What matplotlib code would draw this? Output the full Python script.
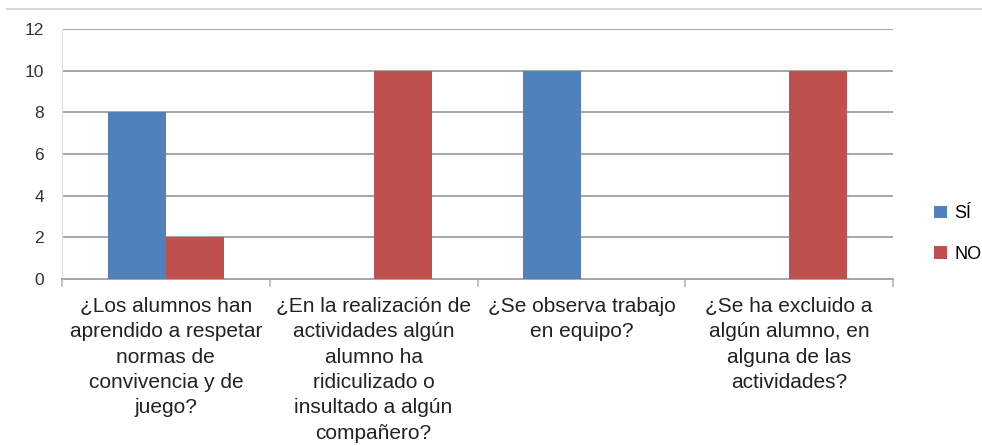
import matplotlib
matplotlib.use("Agg")
import matplotlib.pyplot as plt
import numpy as np

categories = [
    "¿Los alumnos han\naprendido a respetar\nnormas de\nconvivencia y de\njuego?",
    "¿En la realización de\nactividades algún\nalumno ha\nridiculizado o\ninsultado a algún\ncompañero?",
    "¿Se observa trabajo\nen equipo?",
    "¿Se ha excluido a\nalgún alumno, en\nalguna de las\nactividades?",
]
si_values = [8, 0, 10, 0]
no_values = [2, 10, 0, 10]
series_names = ["SÍ", "NO"]
yticks = [0, 2, 4, 6, 8, 10, 12]

BLUE = "#4F81BD"
RED = "#C0504D"
GRID = "#A6A6A6"

plt.rcParams["font.family"] = ["Liberation Sans", "DejaVu Sans"]

fig = plt.figure(figsize=(9.82, 4.46), dpi=100)
ax = fig.add_axes([62 / 982, 1 - 279 / 446, (893 - 62) / 982, 250 / 446])

x = np.arange(len(categories))
w = 0.28
b1 = ax.bar(x - w / 2, si_values, w, color=BLUE, label=series_names[0], zorder=3)
b2 = ax.bar(x + w / 2, no_values, w, color=RED, label=series_names[1], zorder=3)

ax.set_xlim(-0.5, len(categories) - 0.5)
ax.set_ylim(0, 12)
ax.set_yticks(yticks)
ax.set_yticklabels([str(v) for v in yticks], fontsize=12.5, color="#333333")
ax.yaxis.grid(True, color=GRID, lw=1.4, zorder=0)
ax.set_axisbelow(True)

# category labels centred under each group, ticks at the group boundaries
ax.set_xticks(x)
ax.set_xticklabels(categories, fontsize=15, color="#222222", linespacing=1.42)
ax.tick_params(axis="x", length=0, pad=13)
ax.tick_params(axis="y", length=0, pad=13)
ax.set_xticks(np.arange(len(categories) + 1) - 0.5, minor=True)
ax.tick_params(axis="x", which="minor", length=6, color="#BFBFBF", width=1.4)

for s in ["top", "right"]:
    ax.spines[s].set_visible(False)
ax.spines["left"].set_color("#E0E0E0")
ax.spines["bottom"].set_color(GRID)
ax.spines["bottom"].set_linewidth(1.4)

# light chart-area border at the top
fig.add_artist(plt.Line2D([7 / 982, 1], [1 - 9 / 446] * 2, color="#D9D9D9", lw=1.5))

leg = fig.legend(handles=[b1, b2], labels=series_names, loc="center left",
                 bbox_to_anchor=(918 / 982, 1 - 234 / 446), frameon=False,
                 fontsize=13, handlelength=0.7, handleheight=0.7,
                 labelspacing=1.3, handletextpad=0.4)

fig.savefig("out.png", dpi=100)
